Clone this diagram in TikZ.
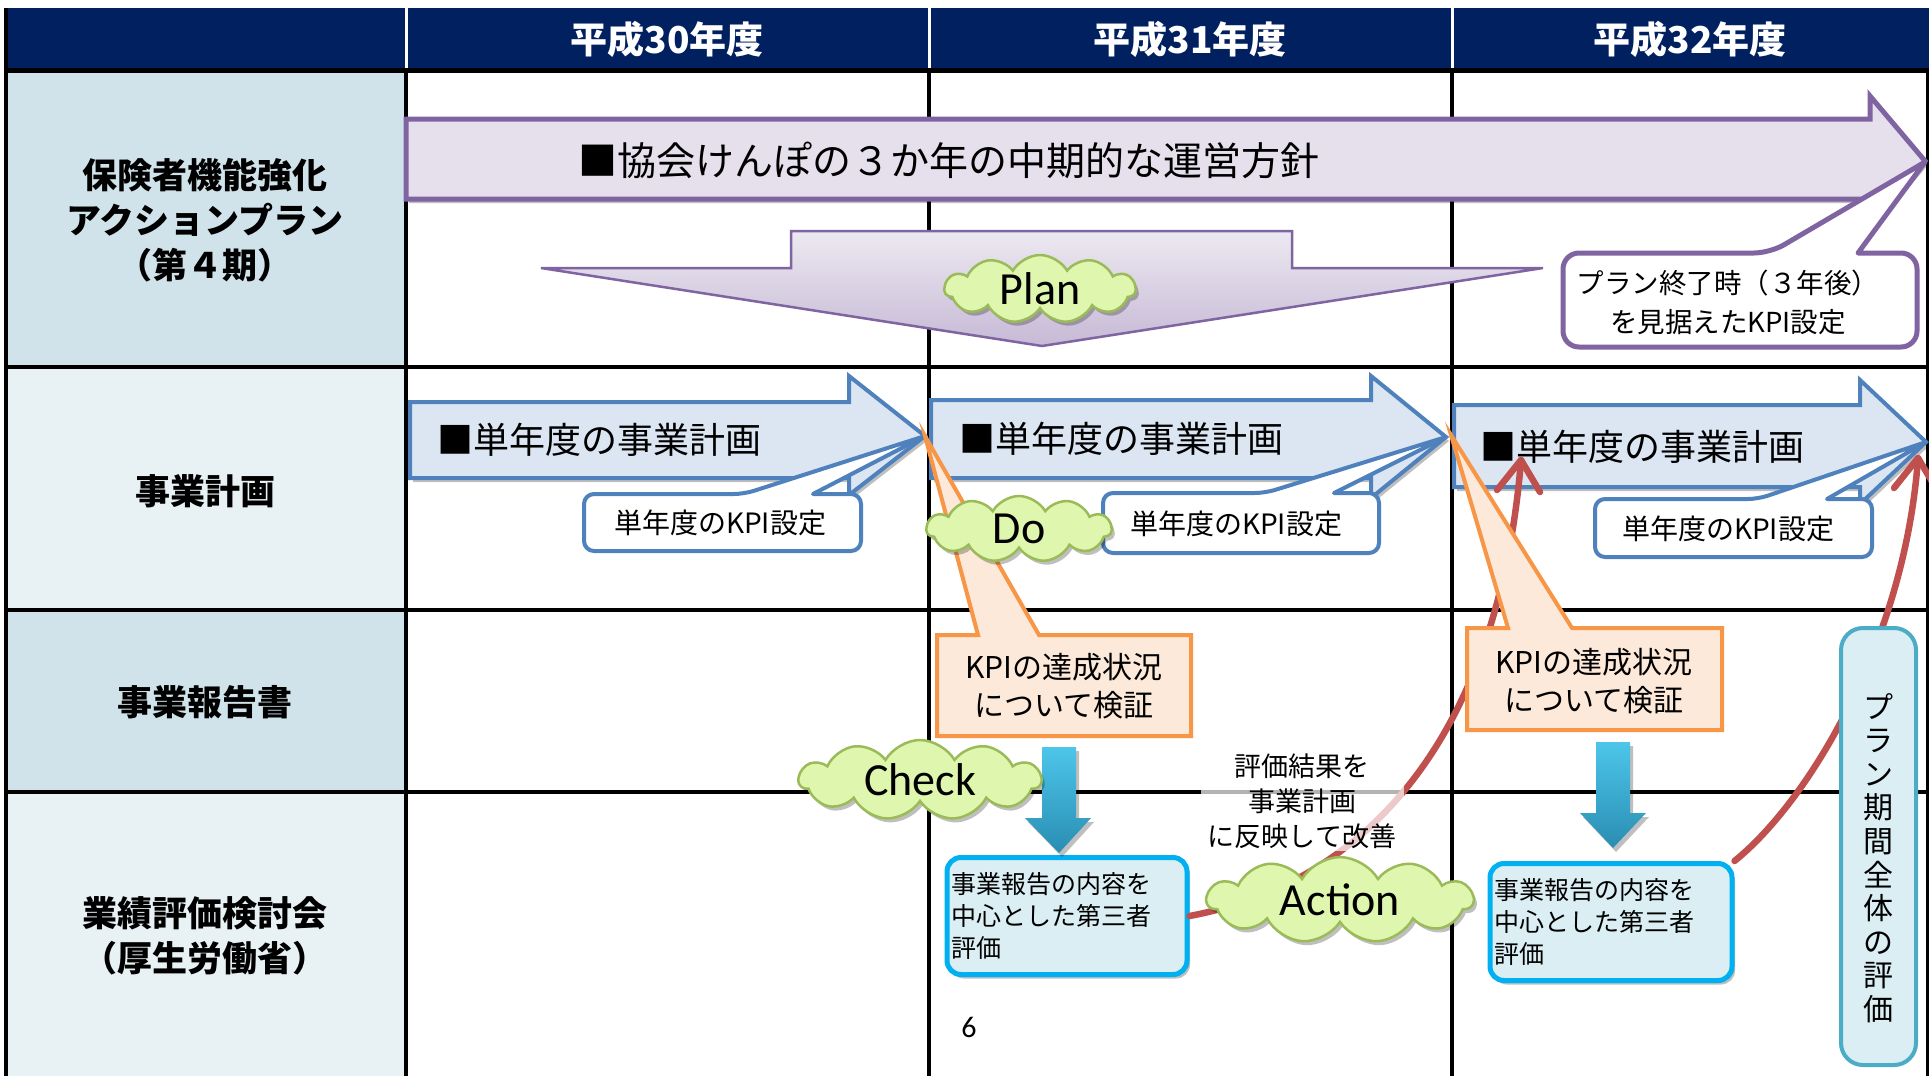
\documentclass[tikz,border=0pt]{standalone}
\usepackage{fontspec}
\setmainfont{Noto Sans CJK JP}
\newfontfamily\calfont{Carlito}
\usetikzlibrary{shapes.symbols,shadows}
\definecolor{navy}{HTML}{002060}
\definecolor{lbA}{HTML}{D0E3EA}
\definecolor{lbB}{HTML}{E8F1F4}
\definecolor{purpleline}{HTML}{8064A2}
\definecolor{purplefill}{HTML}{E5E0EC}
\definecolor{blueline}{HTML}{4F81BD}
\definecolor{bluefill}{HTML}{DCE6F2}
\definecolor{orangeline}{HTML}{F79646}
\definecolor{orangefill}{HTML}{FDE9D9}
\definecolor{redc}{HTML}{C0504D}
\definecolor{cyanline}{HTML}{00B0F0}
\definecolor{boxfill}{HTML}{DAEEF3}
\definecolor{tealline}{HTML}{4BACC6}
\definecolor{cloudfill}{HTML}{DFF6AE}
\definecolor{cloudline}{HTML}{9BBB59}
\definecolor{cyantop}{HTML}{4CC6EA}
\definecolor{cyanbot}{HTML}{2A8DB2}
\tikzset{
  gridline/.style={line width=3.5pt, black},
  shad/.style={drop shadow={shadow xshift=3pt, shadow yshift=-4pt, opacity=0.25, fill=black}},
  headtext/.style={text=white, font=\bfseries\fontsize{37}{37}\selectfont},
  lefttext/.style={align=center, font=\bfseries\fontsize{35}{45}\selectfont},
  purplearrow/.style={fill=purplefill, draw=purpleline, line width=5pt, line join=miter},
  planarrow/.style={draw=purpleline, line width=2.5pt, top color=purplefill!70!white, bottom color=purpleline!45!white},
  purplecall/.style={fill=white, draw=purpleline, line width=5pt, line join=round},
  bluearrow/.style={fill=bluefill, draw=blueline, line width=4pt, shad},
  bluecall/.style={fill=white, draw=blueline, line width=4pt, line join=round},
  orangecall/.style={fill=orangefill, draw=orangeline, line width=4pt, line join=miter},
  cyanarrow/.style={top color=cyantop, bottom color=cyanbot, draw=none, shad},
  bluebox/.style={fill=boxfill, draw=cyanline, line width=5pt, rounded corners=14pt, shad},
  vbox/.style={fill=boxfill, draw=tealline, line width=4pt, rounded corners=22pt},
  redcurve/.style={draw=redc, line width=6.5pt, line cap=round, line join=round},
  cloudnode/.style={cloud, cloud puffs=11, cloud puff arc=120, aspect=2.8, fill=cloudfill, draw=cloudline, line width=2.5pt, inner sep=0pt, font=\calfont\fontsize{46}{46}\selectfont, shad},
  bigtext/.style={font=\fontsize{39}{39}\selectfont},
  midtext/.style={font=\fontsize{36}{36}\selectfont},
  kpitext/.style={font=\fontsize{28}{28}\selectfont},
}
\begin{document}
\begin{tikzpicture}[x=1pt,y=-1pt]
\useasboundingbox (0,0) rectangle (1929,1076);
\fill[white] (0,0) rectangle (1929,1076);
% header and left column
\fill[navy] (6,8) rectangle (1929,70);
\fill[lbA] (6,70) rectangle (406,367);
\fill[lbB] (6,367) rectangle (406,610);
\fill[lbA] (6,610) rectangle (406,792);
\fill[lbB] (6,792) rectangle (406,1076);
% grid
\draw[gridline] (406,70) -- (406,1076);
\draw[gridline] (929,70) -- (929,1076);
\draw[gridline] (1452,70) -- (1452,1076);
\draw[line width=3pt, white] (406,8) -- (406,70);
\draw[line width=3pt, white] (929,8) -- (929,70);
\draw[line width=3pt, white] (1452,8) -- (1452,70);
\draw[line width=5pt] (6,70) -- (1929,70);
\draw[gridline] (6,367) -- (1929,367);
\draw[gridline] (6,610) -- (1929,610);
\draw[gridline] (6,792) -- (1929,792);
\draw[gridline] (6,8) -- (6,1076);
\draw[line width=3pt] (1927,70) -- (1927,1076);
% header texts
\node[headtext] (h30) at (667,39) {平成30年度};
\node[headtext] (h31) at (1190,39) {平成31年度};
\node[headtext] (h32) at (1690,39) {平成32年度};
% left labels
\node[lefttext] (l1) at (205,220) {保険者機能強化\\アクションプラン\\（第４期）};
\node[lefttext] (l2) at (205,491) {事業計画};
\node[lefttext] (l3) at (205,702) {事業報告書};
\node[lefttext] (l4) at (205,936) {業績評価検討会\\（厚生労働省）};
% main purple arrow
\draw[purplearrow, shad] (406,119) -- (1870,119) -- (1870,96) -- (1925,161) -- (1870,226) -- (1870,199) -- (406,199) -- cycle;
\node[bigtext, anchor=west] (mtext) at (575,160) {■協会けんぽの３か年の中期的な運営方針};
% plan arrow
\draw[planarrow] (791,231) -- (1292,231) -- (1292,268) -- (1543,268) -- (1042,346) -- (541,268) -- (791,268) -- cycle;
% purple callout
\draw[purplecall] (1563,300) [rounded corners=16pt] -- (1563,253) -- (1770,253) [sharp corners] -- (1925,162) -- (1858,253) [rounded corners=16pt] -- (1917,253) -- (1917,347) -- (1563,347) -- cycle;
\node[align=center, font=\fontsize{27.5}{39}\selectfont] (ptext) at (1728,302) {プラン終了時（３年後）\\を見据えたKPI設定};
% blue arrows
\draw[bluearrow] (410,402) -- (849,402) -- (849,376) -- (925,436) -- (849,495) -- (849,478) -- (410,478) -- cycle;
\draw[bluearrow] (931,400) -- (1371,400) -- (1371,376) -- (1446,437) -- (1371,498) -- (1371,478) -- (931,478) -- cycle;
\draw[bluearrow] (1454,405) -- (1860,405) -- (1860,380) -- (1926,442) -- (1860,504) -- (1860,487) -- (1454,487) -- cycle;
\node[midtext, anchor=west] (a1) at (434,440) {■単年度の事業計画};
\node[midtext, anchor=west] (a2) at (956,439) {■単年度の事業計画};
\node[midtext, anchor=west] (a3) at (1477,447) {■単年度の事業計画};
% blue callouts
\draw[bluecall] (584,522) [rounded corners=10pt] -- (584,494) -- (744,494) [sharp corners] -- (925,436) -- (813,494) [rounded corners=10pt] -- (861,494) -- (861,551) -- (584,551) -- cycle;
\draw[bluecall] (1103,523) [rounded corners=10pt] -- (1103,493) -- (1265,493) [sharp corners] -- (1446,437) -- (1334,493) [rounded corners=10pt] -- (1379,493) -- (1379,553) -- (1103,553) -- cycle;
\draw[bluecall] (1595,528) [rounded corners=10pt] -- (1595,499) -- (1758,499) [sharp corners] -- (1926,442) -- (1827,499) [rounded corners=10pt] -- (1872,499) -- (1872,557) -- (1595,557) -- cycle;
\node[kpitext] (k1) at (720,523) {単年度のKPI設定};
\node[kpitext] (k2) at (1236,524) {単年度のKPI設定};
\node[kpitext] (k3) at (1728,529) {単年度のKPI設定};
% evaluation boxes
\node[bluebox, minimum width=240pt, minimum height=117pt, text width=232pt, inner xsep=4pt, align=left, font=\fontsize{25}{32}\selectfont] (boxA) at (1067,916) {事業報告の内容を\\中心とした第三者\\評価};
\node[bluebox, minimum width=242pt, minimum height=117pt, text width=234pt, inner xsep=4pt, align=left, font=\fontsize{25}{32}\selectfont] (boxB) at (1611,922) {事業報告の内容を\\中心とした第三者\\評価};
% red curves with barbed heads
\coordinate (r1end) at (1521,460);
\coordinate (r2end) at (1918,458);
\draw[redcurve] (boxA.east) .. controls (1380,880) and (1500,720) .. (r1end);
\draw[redcurve] (r1end) ++(-24,30) -- (r1end) -- ++(19,32);
\draw[redcurve] (boxB.north east) .. controls (1810,800) and (1905,640) .. (r2end);
\draw[redcurve] (r2end) ++(-24,30) -- (r2end) -- ++(19,32);
% orange callouts
\draw[orangecall] (937,686) -- (937,635) -- (978,635) -- (925,436) -- (1039,635) -- (1191,635) -- (1191,736) -- (937,736) -- cycle;
\draw[orangecall] (1467,679) -- (1467,628) -- (1508,628) -- (1451,435) -- (1572,628) -- (1722,628) -- (1722,730) -- (1467,730) -- cycle;
\node[align=center, font=\fontsize{30}{38}\selectfont] (oa) at (1064,686) {KPIの達成状況\\について検証};
\node[align=center, font=\fontsize{30}{38}\selectfont] (ob) at (1594,681) {KPIの達成状況\\について検証};
% cyan down arrows
\path[cyanarrow] (1042,747) -- (1076,747) -- (1076,818) -- (1091,818) -- (1059,853) -- (1025,818) -- (1042,818) -- cycle;
\path[cyanarrow] (1596,742) -- (1630,742) -- (1630,813) -- (1646,813) -- (1613,848) -- (1580,813) -- (1596,813) -- cycle;
% improvement text
\node[fill=white, fill opacity=0.7, text opacity=1, align=center, minimum width=203pt, inner sep=3pt, font=\fontsize{27}{35}\selectfont] (imp) at (1302,801) {評価結果を\\事業計画\\に反映して改善};
% vertical box
\node[vbox, minimum width=75pt, minimum height=437pt] (vb) at (1878.5,846.5) {};
\node[align=center, font=\fontsize{30}{33.6}\selectfont] (vt) at (1878,858) {プ\\ラ\\ン\\期\\間\\全\\体\\の\\評\\価};
% clouds
\node[cloudnode, minimum width=191pt, minimum height=68pt] (plan) at (1040,289) {Plan};
\node[cloudnode, minimum width=185pt, minimum height=66pt] (do) at (1019,529) {Do};
\node[cloudnode, minimum width=242pt, minimum height=68pt] (check) at (920,780) {Check};
\node[cloudnode, minimum width=266pt, minimum height=68pt] (action) at (1340,900) {Action};
% page number
\node[font=\calfont\fontsize{30}{30}\selectfont] (pg) at (969,1027) {6};
\end{tikzpicture}
\end{document}
